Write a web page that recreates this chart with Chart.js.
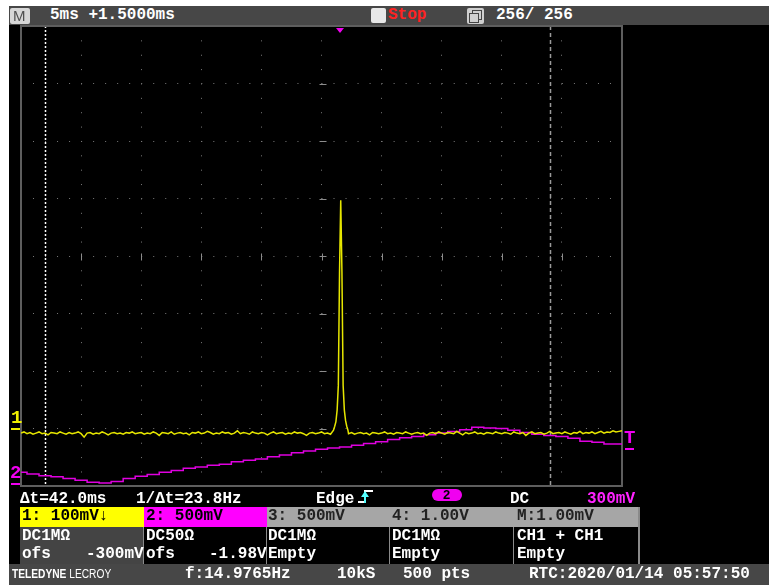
<!DOCTYPE html>
<html><head><meta charset="utf-8">
<script src="https://cdn.jsdelivr.net/npm/chart.js@4"></script>
<style>
html,body{margin:0;padding:0;background:#000;width:769px;height:585px;overflow:hidden;}
#wrap{position:relative;width:769px;height:585px;background:#000;}
canvas{position:absolute;left:0;top:0;}
.t{position:absolute;font-family:"Liberation Mono","DejaVu Sans Mono",monospace;font-size:16px;font-weight:bold;white-space:pre;color:#fff;line-height:16px;z-index:2;}
.b{position:absolute;z-index:1;}
</style>
</head><body>
<div id="wrap">
<canvas id="c" width="769" height="585"></canvas>
<!-- white margins -->
<div class="b" style="left:0;top:0;width:769px;height:6px;background:#fff"></div>
<div class="b" style="left:0;top:0;width:9px;height:585px;background:#fff"></div>
<!-- top bar -->
<div class="b" style="left:9px;top:6px;width:760px;height:19px;background:#474747"></div>
<div class="b" style="left:10px;top:8px;width:20px;height:16px;background:#d6d6d6;border-radius:2px"></div>
<div class="t" style="left:13px;top:8px;color:#505050;font-family:'Liberation Sans',sans-serif;font-weight:normal;font-size:15px">M</div>
<div class="t" style="left:50px;top:7px">5ms +1.5000ms</div>
<div class="b" style="left:371px;top:8px;width:15px;height:15px;background:#e8e8e8;border-radius:2px"></div>
<div class="t" style="left:388px;top:7px;color:#ff2222">Stop</div>
<div class="b" style="left:467px;top:8px;width:17px;height:16px;background:#cfcfcf;border-radius:2px"></div>
<div class="b" style="left:472px;top:10px;width:8px;height:8px;border:1px solid #444"></div>
<div class="b" style="left:469px;top:13px;width:8px;height:8px;border:1px solid #444;background:#cfcfcf"></div>
<div class="t" style="left:496px;top:7px">256/ 256</div>
<!-- trace markers -->
<div class="t" id="m1" style="left:11px;top:410px;color:#f0f000;font-size:19px">1</div>
<div class="b" id="u1" style="left:11px;top:428px;width:9px;height:2px;background:#f0f000"></div>
<div class="t" id="m2" style="left:10px;top:465px;color:#f000f0;font-size:19px">2</div>
<div class="b" id="u2" style="left:11px;top:483px;width:9px;height:2px;background:#f000f0"></div>
<div class="t" id="mt" style="left:624px;top:429px;color:#f000f0;font-size:19px">T</div>
<div class="b" id="ut" style="left:625px;top:448px;width:9px;height:2px;background:#f000f0"></div>
<div class="b" id="tri" style="left:336px;top:28px;width:0;height:0;border-left:4px solid transparent;border-right:4px solid transparent;border-top:5px solid #f000f0"></div>
<!-- info row -->
<div class="t" style="left:20px;top:491px">Δt=42.0ms</div>
<div class="t" style="left:136px;top:491px">1/Δt=23.8Hz</div>
<div class="t" style="left:316px;top:491px">Edge</div>
<div class="b" style="left:358px;top:501px;width:6px;height:2px;background:#fff"></div>
<div class="b" style="left:364px;top:491px;width:2px;height:12px;background:#5ff"></div>
<div class="b" style="left:364px;top:490px;width:9px;height:2px;background:#fff"></div>
<div class="b" style="left:361px;top:491px;width:0;height:0;border-left:4px solid transparent;border-right:4px solid transparent;border-bottom:6px solid #5ff"></div>
<div class="b" style="left:432px;top:489px;width:30px;height:12px;background:#f000f0;border-radius:6px"></div>
<div class="t" style="left:443px;top:488px;color:#000;font-family:'Liberation Sans',sans-serif;font-size:13px;line-height:14px">2</div>
<div class="t" style="left:510px;top:491px">DC</div>
<div class="t" style="left:587px;top:491px;color:#ff22ff">300mV</div>
<!-- channel boxes -->
<div class="b" style="left:20px;top:507px;width:124px;height:20px;background:#ffff00"></div>
<div class="b" style="left:144px;top:507px;width:123px;height:20px;background:#ff00ff"></div>
<div class="b" style="left:267px;top:507px;width:123px;height:20px;background:#a6a6a6"></div>
<div class="b" style="left:390px;top:507px;width:124px;height:20px;background:#a6a6a6"></div>
<div class="b" style="left:514px;top:507px;width:125px;height:20px;background:#a6a6a6"></div>
<div class="b" style="left:20px;top:527px;width:123px;height:37px;background:#444"></div>
<div class="b" style="left:143px;top:527px;width:1px;height:37px;background:#8a8a8a"></div>
<div class="b" style="left:266px;top:527px;width:1px;height:37px;background:#8a8a8a"></div>
<div class="b" style="left:389px;top:527px;width:1px;height:37px;background:#8a8a8a"></div>
<div class="b" style="left:513px;top:527px;width:1px;height:37px;background:#8a8a8a"></div>
<div class="b" style="left:638px;top:507px;width:2px;height:57px;background:#8a8a8a"></div>
<div class="t" style="left:22px;top:508px;color:#000">1: 100mV↓</div>
<div class="t" style="left:146px;top:508px;color:#000">2: 500mV</div>
<div class="t" style="left:268px;top:508px;color:#222">3: 500mV</div>
<div class="t" style="left:392px;top:508px;color:#222">4: 1.00V</div>
<div class="t" style="left:517px;top:508px;color:#222">M:1.00mV</div>
<div class="t" style="left:22px;top:528px">DC1MΩ</div>
<div class="t" style="left:22px;top:546px">ofs</div>
<div class="t" style="left:86px;top:546px">-300mV</div>
<div class="t" style="left:146px;top:528px">DC50Ω</div>
<div class="t" style="left:146px;top:546px">ofs</div>
<div class="t" style="left:209px;top:546px">-1.98V</div>
<div class="t" style="left:268px;top:528px">DC1MΩ</div>
<div class="t" style="left:268px;top:546px">Empty</div>
<div class="t" style="left:392px;top:528px">DC1MΩ</div>
<div class="t" style="left:392px;top:546px">Empty</div>
<div class="t" style="left:517px;top:528px">CH1 + CH1</div>
<div class="t" style="left:517px;top:546px">Empty</div>
<!-- bottom bar -->
<div class="b" style="left:9px;top:564px;width:760px;height:21px;background:#474747"></div>
<div class="t" style="left:12px;top:568px;font-family:'Liberation Sans',sans-serif;font-weight:normal;font-size:12px;line-height:12px;transform:scaleX(0.85);transform-origin:left"><b>TELEDYNE</b> LECROY</div>
<div class="t" style="left:185px;top:566px">f:14.9765Hz</div>
<div class="t" style="left:337px;top:566px">10kS</div>
<div class="t" style="left:403px;top:566px">500 pts</div>
<div class="t" style="left:529px;top:566px">RTC:2020/01/14 05:57:50</div>
</div>
<script>
// ---- acquisition settings (ms) ----
const timeMin = -25, timeMax = 25;          // 5 ms/div, 10 div
const cursorTimes = [-23.0, 19.0];          // Δt = 42.0 ms
const triggerTime = 1.5;                    // +1.5000 ms delay
const triggerLevelCh2 = 0.30;               // 300 mV on CH2

// ---- CH1 (mV), baseline sampled every 0.25 ms from -25 ms ----
const ch1Start = -25, ch1Step = 0.25;
const ch1Baseline = [
 -8,-6,-9,-7,-10,-8,-6,-9,-8,-11,-7,-8,-9,-6,-8,-10,-7,-9,-8,-6,
 -9,-15,-8,-7,-10,-8,-9,-6,-8,-11,-8,-7,-9,-8,-10,-7,-8,-6,-9,-8,
 -7,-10,-8,-9,-6,-8,-12,-7,-8,-9,-6,-10,-8,-7,-9,-8,-11,-7,-8,-6,
 -9,-8,-5,-7,-10,-8,-9,-6,-8,-7,-10,-8,-4,-9,-7,-8,-10,-6,-8,-9,
 -7,-8,-11,-8,-6,-9,-8,-7,-10,-8,-9,-6,-8,-7,-9,-12,-8,-7,-9,-8,
 -6,-9,-8,-10,-5,-4,-4,-4,-4,-9,-7,-10,-8,-7,-9,-8,-11,-7,-8,-9,
 -8,-6,-9,-8,-10,-7,-8,-9,-6,-8,-10,-8,-7,-9,-8,-12,-8,-7,-9,-6,
 -8,-10,-7,-8,-9,-5,-8,-11,-7,-9,-8,-6,-9,-8,-10,-7,-8,-9,-6,-8,
 -9,-7,-8,-10,-6,-8,-9,-7,-12,-8,-6,-9,-8,-7,-10,-8,-5,-9,-8,-7,
 -9,-6,-8,-10,-7,-8,-5,-9,-7,-8,-6,-9,-7,-5,-8,-6,-7,-4,-6,-5,
 -4
];
// CH1 pulse, finely sampled
const ch1PulseTimes  = [1.0, 1.1, 1.2, 1.3, 1.4, 1.5, 1.6, 1.7, 1.8, 1.9, 2.0, 2.1, 2.2];
const ch1PulseValues = [ -3,   4,  12,  32,  75, 272, 397, 272,  75,  32,  14,   4,  -3];

// ---- CH2 (V), sampled every 1 ms from -25 ms ----
const ch2Start = -25, ch2Step = 1;
const ch2Values = [
 0.100,0.085,0.070,0.060,0.045,0.030,0.012,0.006,0.020,0.045,
 0.065,0.080,0.100,0.115,0.135,0.145,0.160,0.170,0.190,0.205,
 0.215,0.235,0.250,0.270,0.285,0.300,0.310,0.320,0.335,0.350,
 0.365,0.385,0.400,0.410,0.425,0.440,0.455,0.470,0.490,0.485,
 0.480,0.465,0.445,0.430,0.420,0.410,0.395,0.370,0.360,0.345,
 0.345
];

// ---- build point tables ----
const ch1Points = [];
ch1Baseline.forEach((v,i)=>{
  const t = ch1Start + i*ch1Step;
  if (t < ch1PulseTimes[0] - 0.01 || t > ch1PulseTimes[ch1PulseTimes.length-1] + 0.01) ch1Points.push({x:t,y:v});
});
ch1PulseTimes.forEach((t,i)=>ch1Points.push({x:t,y:ch1PulseValues[i]}));
ch1Points.sort((a,b)=>a.x-b.x);
const ch2Points = ch2Values.map((v,i)=>({x:ch2Start+i*ch2Step,y:v}));

const scopePlugin = {
  id:'scope',
  beforeDatasetsDraw(chart){
    const {ctx, chartArea:a, scales} = chart;
    const x = scales.x, g = scales.yg;
    ctx.save();
    ctx.strokeStyle = '#8c8c8c'; ctx.lineWidth = 1;
    const cx = Math.round(x.getPixelForValue(0)) + 0.5;
    const cy = Math.round(g.getPixelForValue(0)) + 0.5;
    for (let d=-3; d<=3; d++){
      const py = Math.round(g.getPixelForValue(d)) + 0.5;
      ctx.beginPath(); ctx.moveTo(cx-3,py); ctx.lineTo(cx+4,py); ctx.stroke();
    }
    for (let t=-20; t<=20; t+=5){
      const px = Math.round(x.getPixelForValue(t)) + 0.5;
      ctx.beginPath(); ctx.moveTo(px,cy-3); ctx.lineTo(px,cy+4); ctx.stroke();
    }
    // cursors
    const c1 = Math.round(x.getPixelForValue(cursorTimes[0])) + 0.5;
    ctx.strokeStyle = '#ffffff'; ctx.lineWidth = 1.5; ctx.setLineDash([2,2]);
    ctx.beginPath(); ctx.moveTo(c1,a.top); ctx.lineTo(c1,a.bottom); ctx.stroke();
    const c2 = Math.round(x.getPixelForValue(cursorTimes[1])) + 0.5;
    ctx.strokeStyle = '#9a9a9a'; ctx.setLineDash([4,3]);
    ctx.beginPath(); ctx.moveTo(c2,a.top); ctx.lineTo(c2,a.bottom); ctx.stroke();
    ctx.setLineDash([]);
    // frame
    ctx.strokeStyle = '#5e5e5e'; ctx.lineWidth = 2;
    ctx.strokeRect(a.left, a.top, a.right-a.left, a.bottom-a.top);
    ctx.restore();
  }
};

const chart = new Chart(document.getElementById('c').getContext('2d'), {
  type:'line',
  data:{datasets:[
    {label:'CH1', data:ch1Points, yAxisID:'y1', borderColor:'#e6e600', borderWidth:1.5, pointRadius:0, tension:0},
    {label:'CH2', data:ch2Points, yAxisID:'y2', borderColor:'#e000e0', borderWidth:1.5, pointRadius:0, stepped:'middle'}
  ]},
  options:{
    responsive:false, animation:false, events:[],
    layout:{padding:{left:21, top:26, right:147, bottom:99}},
    plugins:{legend:{display:false}, tooltip:{enabled:false}},
    scales:{
      x:{type:'linear', min:timeMin, max:timeMax, ticks:{display:false, stepSize:5},
         grid:{color:'#7a7a7a', lineWidth:1, drawTicks:false}, border:{display:false, dash:[1,13.37]}},
      yg:{type:'linear', position:'left', min:-4, max:4, ticks:{display:false, stepSize:1},
         grid:{color:'#7a7a7a', lineWidth:1, drawTicks:false}, border:{display:false, dash:[1,11.02]}},
      y1:{display:false, min:-100, max:700},
      y2:{display:false, min:-0.02, max:3.98}
    }
  },
  plugins:[scopePlugin]
});

// place markers from scales
const sx = chart.scales.x, s1 = chart.scales.y1, s2 = chart.scales.y2;
const g1 = s1.getPixelForValue(0), g2 = s2.getPixelForValue(0), gt = s2.getPixelForValue(triggerLevelCh2);
document.getElementById('u1').style.top = (Math.round(g1)-1)+'px';
document.getElementById('m1').style.top = (Math.round(g1)-19)+'px';
document.getElementById('u2').style.top = (Math.round(g2)-1)+'px';
document.getElementById('m2').style.top = (Math.round(g2)-19)+'px';
document.getElementById('ut').style.top = (Math.round(gt)-1)+'px';
document.getElementById('mt').style.top = (Math.round(gt)-19)+'px';
document.getElementById('tri').style.left = (Math.round(sx.getPixelForValue(triggerTime))-4)+'px';
</script>
</body></html>
